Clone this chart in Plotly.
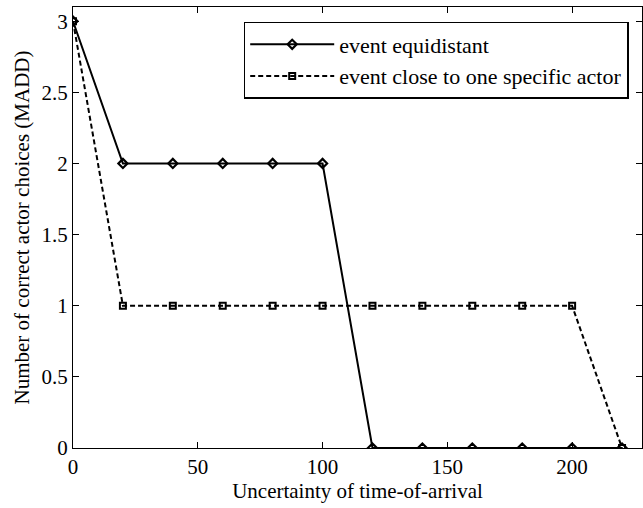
import plotly.graph_objects as go

# Uncertainty values and number of correct actor choices per scenario
uncertainty = [0, 20, 40, 60, 80, 100, 120, 140, 160, 180, 200, 220]
equidistant = [3, 2, 2, 2, 2, 2, 0, 0, 0, 0, 0, 0]
close_to_actor = [3, 1, 1, 1, 1, 1, 1, 1, 1, 1, 1, 0]

x_ticks = [0, 50, 100, 150, 200]
y_ticks = [0, 0.5, 1, 1.5, 2, 2.5, 3]
y_tick_text = ["0", "0.5", "1", "1.5", "2", "2.5", "3"]

font_family = "Liberation Serif"

fig = go.Figure()
fig.add_trace(go.Scatter(
    x=uncertainty, y=equidistant, mode="lines+markers",
    name="event equidistant",
    line=dict(color="black", width=2),
    marker=dict(symbol="diamond-open", size=7, color="black", line=dict(width=2.2)),
))
fig.add_trace(go.Scatter(
    x=uncertainty, y=close_to_actor, mode="lines+markers",
    name="event close to one specific actor",
    line=dict(color="black", width=2, dash="5px,3px"),
    marker=dict(symbol="square-open", size=6, color="black", line=dict(width=2)),
))

axis_common = dict(
    showline=True, linecolor="black", linewidth=1, mirror="ticks",
    ticks="inside", ticklen=6, tickcolor="black", showgrid=False,
    zeroline=False, tickfont=dict(family=font_family, size=21, color="black"),
)

fig.update_layout(
    width=643, height=508,
    margin=dict(l=73, r=1, t=7, b=60),
    paper_bgcolor="white", plot_bgcolor="white",
    font=dict(family=font_family, size=21, color="black"),
    showlegend=True,
    legend=dict(
        x=0.30, y=0.966, xanchor="left", yanchor="top",
        bgcolor="white", bordercolor="black", borderwidth=1.5,
        font=dict(family=font_family, size=22, color="black"),
        itemwidth=84, tracegroupgap=0,
    ),
    xaxis=dict(
        range=[0, 228], tickvals=x_ticks,
        title=dict(text="Uncertainty of time-of-arrival", standoff=4,
                   font=dict(family=font_family, size=21)),
        **axis_common,
    ),
    yaxis=dict(
        range=[0, 3.1], tickvals=y_ticks, ticktext=y_tick_text,
        title=dict(text="Number of correct actor choices (MADD)", standoff=6,
                   font=dict(family=font_family, size=21)),
        **axis_common,
    ),
)

fig.write_html("out.html")
